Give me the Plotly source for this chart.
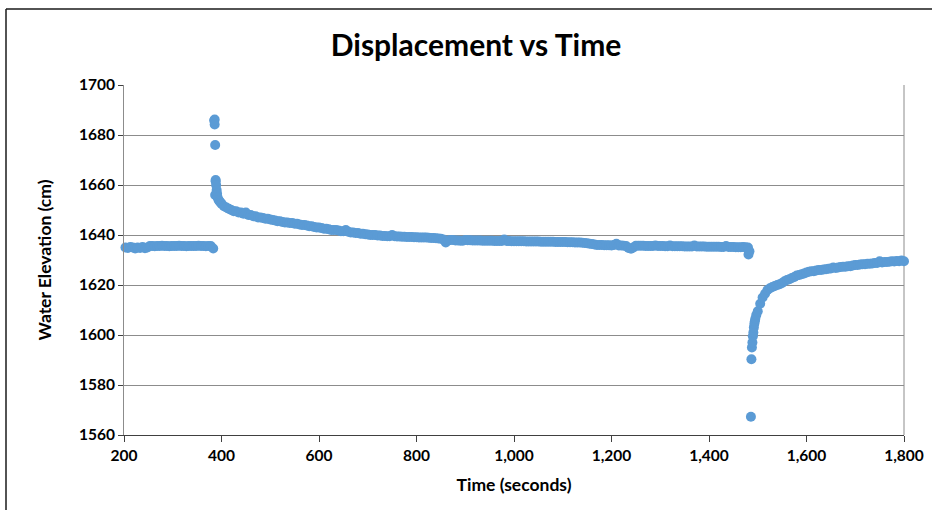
import plotly.graph_objects as go

# ---------------- data ----------------
# Pre-surge baseline, sampled every 5 s from 203 s to 383 s
base_t = list(range(203, 384, 5))
base_v = [1635.0, 1634.8, 1635.2, 1635.0, 1634.6, 1635.0, 1634.8, 1635.2, 1634.7, 1635.0,
          1635.6, 1635.6, 1635.5, 1635.6, 1635.6, 1635.7, 1635.6, 1635.6, 1635.5, 1635.6,
          1635.6, 1635.6, 1635.7, 1635.6, 1635.6, 1635.5, 1635.6, 1635.6, 1635.6, 1635.6,
          1635.7, 1635.6, 1635.6, 1635.5, 1635.6, 1635.6, 1634.6]

# Slug-in surge
surge_t = [385, 386, 386, 387, 387, 388, 388, 389, 390, 391, 392, 394, 396, 398]
surge_v = [1685.8, 1686.2, 1684.2, 1676.0, 1656.0, 1661.5, 1662.0, 1660.0, 1658.0,
           1656.5, 1655.0, 1654.0, 1653.5, 1653.0]

# Falling-head recovery, sampled every 5 s from 400 s to 1480 s
decay_t = list(range(400, 1481, 5))
decay_v = [
    1652.5, 1651.5, 1651.0, 1650.5, 1650.0, 1649.5, 1649.5, 1649.0, 1649.0, 1648.5,
    1649.0, 1648.0, 1648.0, 1647.5, 1647.5, 1647.0, 1647.0, 1646.8, 1646.5, 1646.5,
    1646.2, 1646.0, 1645.8, 1645.5, 1645.5, 1645.2, 1645.0, 1645.0, 1644.8, 1644.8,
    1644.5, 1644.5, 1644.2, 1644.0, 1644.0, 1643.8, 1643.5, 1643.5, 1643.2, 1643.0,
    1643.0, 1642.8, 1642.5, 1642.5, 1642.3, 1642.0, 1642.0, 1642.0, 1641.8, 1641.5,
    1641.5, 1642.0, 1641.3, 1641.0, 1641.0, 1640.8, 1640.8, 1640.5, 1640.5, 1640.3,
    1640.2, 1640.0, 1640.0, 1640.0, 1639.8, 1639.8, 1639.6, 1639.6, 1639.5, 1639.5,
    1640.0, 1639.5, 1639.4, 1639.4, 1639.3, 1639.3, 1639.2, 1639.2, 1639.2, 1639.1,
    1639.1, 1639.0, 1639.0, 1639.0, 1639.0, 1638.9, 1638.8, 1638.8, 1638.7, 1638.6,
    1638.5, 1638.2, 1637.0, 1637.8, 1638.0, 1638.0, 1637.8, 1637.8, 1637.7, 1637.7,
    1638.0, 1637.9, 1637.9, 1637.8, 1637.8, 1637.8, 1637.8, 1637.7, 1637.7, 1637.7,
    1637.7, 1637.7, 1637.6, 1637.6, 1637.6, 1637.6, 1638.2, 1637.6, 1637.6, 1637.5,
    1637.5, 1637.5, 1637.5, 1637.5, 1637.5, 1637.4, 1637.4, 1637.4, 1637.4, 1637.4,
    1637.4, 1637.3, 1637.3, 1637.3, 1637.3, 1637.3, 1637.3, 1637.2, 1637.2, 1637.2,
    1637.2, 1637.2, 1637.1, 1637.1, 1637.1, 1637.0, 1637.0, 1637.0, 1636.9, 1636.8,
    1636.7, 1636.5, 1636.4, 1636.2, 1636.0, 1636.0, 1636.0, 1635.9, 1635.9, 1635.9,
    1635.8, 1636.0, 1636.5, 1635.8, 1635.8, 1635.7, 1635.6, 1634.8, 1634.5, 1635.0,
    1635.7, 1635.7, 1635.7, 1635.7, 1635.6, 1635.6, 1635.6, 1635.6, 1635.8, 1635.6,
    1635.6, 1635.6, 1635.5, 1635.5, 1635.8, 1635.5, 1635.5, 1635.5, 1635.5, 1635.5,
    1635.4, 1635.4, 1635.4, 1635.4, 1635.8, 1635.4, 1635.4, 1635.4, 1635.4, 1635.3,
    1635.3, 1635.3, 1635.3, 1635.3, 1635.3, 1635.2, 1635.2, 1635.6, 1635.2, 1635.2,
    1635.2, 1635.1, 1635.1, 1635.1, 1635.2, 1635.1, 1635.0]

# Slug-out drop
drop_t = [1481, 1483, 1486, 1487, 1488, 1489, 1490, 1491, 1492, 1493, 1494, 1495, 1497]
drop_v = [1632.2, 1633.5, 1567.3, 1590.3, 1595.0, 1597.0, 1599.5, 1601.0, 1603.0,
          1604.5, 1605.5, 1606.5, 1608.0]

# Rising-head recovery, sampled every 5 s from 1500 s to 1800 s
rise_t = list(range(1500, 1801, 5))
rise_v = [1609.5, 1612.5, 1615.0, 1616.5, 1618.0, 1618.7, 1619.2, 1619.6, 1620.0, 1620.3,
          1620.8, 1621.5, 1622.0, 1622.3, 1622.8, 1623.2, 1623.8, 1624.0, 1624.3, 1624.6,
          1625.0, 1625.3, 1625.5, 1625.5, 1625.8, 1626.0, 1626.0, 1626.2, 1626.3, 1626.5,
          1626.6, 1627.0, 1626.8, 1627.0, 1627.2, 1627.3, 1627.3, 1627.5, 1627.5, 1627.8,
          1628.0, 1628.0, 1628.2, 1628.3, 1628.3, 1628.5, 1628.5, 1628.6, 1628.8, 1628.8,
          1629.5, 1629.0, 1629.2, 1629.2, 1629.3, 1629.5, 1629.4, 1629.6, 1629.5, 1629.8,
          1629.5]

for a, b in [(base_t, base_v), (surge_t, surge_v), (decay_t, decay_v),
             (drop_t, drop_v), (rise_t, rise_v)]:
    assert len(a) == len(b), (len(a), len(b))

x_ticks = [200, 400, 600, 800, 1000, 1200, 1400, 1600, 1800]
y_ticks = [1560, 1580, 1600, 1620, 1640, 1660, 1680, 1700]

time_s = base_t + surge_t + decay_t + drop_t + rise_t
elev_cm = base_v + surge_v + decay_v + drop_v + rise_v

# ---------------- figure ----------------
FONT = "Lato"
AX_DARK = "#404040"
GRID = "#8c8c8c"
W, H = 932, 510
# plot-area box in pixels (left, right, top, bottom) -> expressed as axis domains
PL, PR, PT, PB = 124, 904, 85, 435

fig = go.Figure()
fig.add_trace(go.Scatter(
    x=time_s, y=elev_cm, mode="markers",
    marker=dict(color="#5B9BD5", size=10, line=dict(width=0)),
    cliponaxis=False, showlegend=False, hoverinfo="x+y"))

fig.update_layout(
    width=W, height=H,
    margin=dict(l=0, r=0, t=0, b=0, pad=0),
    paper_bgcolor="white", plot_bgcolor="white",
    font=dict(family=FONT, color="#000000"),
    title=dict(text="Displacement vs Time", xref="container", yref="container",
               x=476 / W, xanchor="center", y=1 - 45 / H, yanchor="middle",
               font=dict(family=FONT, size=30, weight="bold", color="#000000")),
    xaxis=dict(domain=[PL / W, PR / W],
               range=[200, 1800], tickvals=x_ticks, tickformat=",d",
               showgrid=False, zeroline=False, automargin=False,
               showline=True, linecolor=AX_DARK, linewidth=1,
               ticks="outside", ticklen=6, tickcolor=AX_DARK, tickwidth=1,
               tickfont=dict(family=FONT, size=15.5, weight="bold", color="#000000"),
               title=dict(text="Time (seconds)", standoff=16,
                          font=dict(family=FONT, size=17.5, weight="bold", color="#000000"))),
    yaxis=dict(domain=[1 - PB / H, 1 - PT / H],
               range=[1560, 1700], tickvals=y_ticks, tickformat="d",
               showgrid=True, gridcolor=GRID, gridwidth=1, zeroline=False, automargin=False,
               showline=True, linecolor=GRID, linewidth=1,
               ticks="outside", ticklen=5, tickcolor=AX_DARK, tickwidth=1,
               tickfont=dict(family=FONT, size=15.5, weight="bold", color="#000000"),
               title=dict(text="Water Elevation (cm)", standoff=22,
                          font=dict(family=FONT, size=17.5, weight="bold", color="#000000"))),
    shapes=[
        # right border of the plot area
        dict(type="line", xref="x domain", yref="y domain", x0=1, x1=1, y0=0, y1=1,
             line=dict(color=GRID, width=1), layer="below"),
        # outer chart frame: only its top and left edges fall inside the picture
        dict(type="line", xref="paper", yref="paper",
             x0=6 / W, x1=1, y0=1 - 9 / H, y1=1 - 9 / H,
             line=dict(color="#1a1a1a", width=1.5)),
        dict(type="line", xref="paper", yref="paper",
             x0=6 / W, x1=6 / W, y0=0, y1=1 - 9 / H,
             line=dict(color="#1a1a1a", width=1.5)),
    ],
)

fig.write_html("out.html")
